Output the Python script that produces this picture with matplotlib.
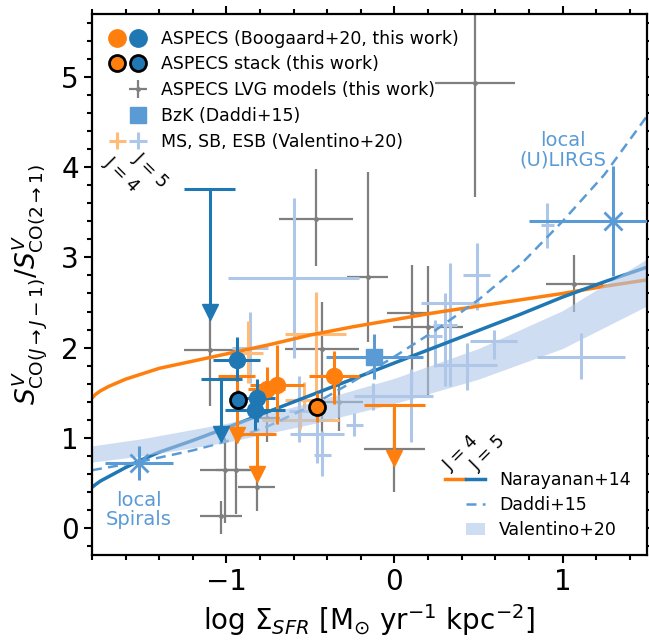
import numpy as np
import matplotlib
matplotlib.use('Agg')
import matplotlib.pyplot as plt
from matplotlib.legend_handler import HandlerTuple
from matplotlib.lines import Line2D
from matplotlib.patches import Patch
from matplotlib.ticker import MultipleLocator

# model curves
nar_x = [-1.8, -1.78, -1.75, -1.7, -1.6, -1.5, -1.4, -1.2, -1.0, -0.75, -0.5, -0.25, 0.0, 0.25, 0.5, 0.75, 1.0, 1.25, 1.5]
nar4_y = [1.44, 1.48, 1.52, 1.57, 1.65, 1.71, 1.77, 1.85, 1.93, 2.03, 2.14, 2.23, 2.31, 2.39, 2.46, 2.53, 2.60, 2.68, 2.75]
nar5_y = [0.45, 0.48, 0.52, 0.57, 0.67, 0.76, 0.84, 0.97, 1.11, 1.29, 1.47, 1.65, 1.83, 2.01, 2.19, 2.37, 2.56, 2.73, 2.89]

dad_x = [-1.8, -1.5, -1.2, -1.0, -0.75, -0.5, -0.25, 0.0, 0.25, 0.5, 0.75, 1.0, 1.25, 1.5]
dad_y = [0.64, 0.74, 0.86, 0.96, 1.13, 1.35, 1.62, 1.90, 2.20, 2.53, 2.92, 3.40, 3.92, 4.56]

val_x = [-1.8, -1.5, -1.0, -0.5, 0.0, 0.5, 1.0, 1.5]
val_lo = [0.73, 0.80, 0.95, 1.15, 1.38, 1.65, 1.99, 2.46]
val_hi = [0.91, 0.99, 1.16, 1.39, 1.66, 1.99, 2.41, 2.98]

# ASPECS detections, CO(4-3) orange / CO(5-4) blue
asp4_x = [-0.70, -0.76, -0.36]
asp4_y = [1.59, 1.54, 1.68]
asp4_xerr = [0.16, 0.11, 0.15]
asp4_ylo = [0.44, 0.23, 0.31]
asp4_yhi = [0.44, 0.24, 0.28]

asp5_x = [-0.94, -0.82, -0.83]
asp5_y = [1.86, 1.44, 1.31]
asp5_xerr = [0.14, 0.11, 0.18]
asp5_ylo = [0.23, 0.27, 0.22]
asp5_yhi = [0.26, 0.21, 0.19]

# upper limits: value at the top, arrow at the bottom
ul4_x = [-0.94, -0.82, 0.0]
ul4_top = [1.69, 1.04, 1.36]
ul4_bot = [1.03, 0.60, 0.78]
ul4_xerr = [0.11, 0.115, 0.18]

ul5_x = [-1.10, -1.03]
ul5_top = [3.76, 1.65]
ul5_bot = [2.40, 1.04]
ul5_xerr = [0.15, 0.12]

# stacks (orange, blue)
stk_x = [-0.46, -0.93]
stk_y = [1.34, 1.42]
stk_yerr = [0.16, 0.11]

# ASPECS LVG models
lvg_x = [-0.465, -0.16, -1.10, -0.43, -0.76, 0.106, 0.20, 1.07, 0.48, -1.01, -0.944, -1.03, -0.82, 0.0, -0.33]
lvg_y = [3.43, 2.78, 1.97, 1.98, 1.22, 2.38, 2.23, 2.71, 4.94, 0.64, 0.64, 0.13, 0.45, 0.88, 1.40]
lvg_xerr = [0.22, 0.12, 0.15, 0.22, 0.08, 0.15, 0.21, 0.17, 0.24, 0.15, 0.12, 0.125, 0.11, 0.18, 0.14]
lvg_ylo = [0.53, 0.72, 0.62, 0.94, 0.27, 0.81, 0.77, 0.32, 1.27, 0.58, 0.49, 0.20, 0.26, 0.48, 0.33]
lvg_yhi = [0.55, 1.17, 0.43, 0.53, 0.15, 0.54, 0.67, 0.32, 0.80, 0.36, 0.42, 0.17, 0.15, 0.45, 0.20]

# Valentino+20 MS/SB/ESB, J=5 (light blue) and J=4 (light orange)
v5_x = [-0.60, -0.86, -0.46, -0.57, -0.43, -0.24, -0.13, 0.10, 0.49, 0.91, 0.33, 0.30, 0.24, 0.59, 0.43, 1.11]
v5_y = [2.77, 2.00, 1.04, 1.30, 0.81, 1.14, 1.46, 1.46, 2.81, 3.36, 2.50, 2.25, 2.13, 2.07, 1.81, 1.90]
v5_xerr = [0.39, 0.105, 0.16, 0.06, 0.05, 0.05, 0.11, 0.13, 0.08, 0.04, 0.17, 0.07, 0.04, 0.14, 0.18, 0.26]
v5_ylo = [0.89, 0.39, 0.32, 0.35, 0.23, 0.12, 0.15, 0.51, 0.39, 0.25, 0.93, 0.68, 0.34, 0.20, 0.28, 0.25]
v5_yhi = [0.89, 0.40, 0.31, 0.38, 0.26, 0.14, 0.15, 0.30, 0.35, 0.24, 0.44, 0.36, 0.18, 0.13, 0.24, 0.26]

v4_x = [-0.47, -0.87, -0.54, -0.56]
v4_y = [2.15, 1.94, 1.42, 1.20]
v4_xerr = [0.18, 0.09, 0.11, 0.23]
v4_ylo = [0.67, 0.33, 0.10, 0.10]
v4_yhi = [0.47, 0.35, 0.20, 0.10]

# local spirals and (U)LIRGs
loc_x = [-1.52, 1.30]
loc_y = [0.72, 3.40]
loc_xerr = [0.20, 0.50]
loc_yerr = [0.19, 0.61]

# BzK (Daddi+15)
bzk_x = [-0.12]
bzk_y = [1.90]
bzk_xerr = [0.29]
bzk_yerr = [0.25]

orange = '#ff7f0e'
blue = '#1f77b4'
mblue = '#5b9bd5'
lblue = '#aec7e8'
lorange = '#ffbb78'
grey = '#7f7f7f'

fig = plt.figure(figsize=(6.49, 6.41), dpi=100)
ax = fig.add_axes([0.1418, 0.1342, 0.8544, 0.844])

# lvg models + valentino points (below the curves)
lvg_c = ax.errorbar(lvg_x, lvg_y, xerr=lvg_xerr, yerr=[lvg_ylo, lvg_yhi], fmt='.', ms=5,
                    color=grey, elinewidth=1.6, capsize=0, zorder=1)
v5_c = ax.errorbar(v5_x, v5_y, xerr=v5_xerr, yerr=[v5_ylo, v5_yhi], fmt='none',
                   ecolor=lblue, elinewidth=2.2, capsize=0, zorder=1.1)
v4_c = ax.errorbar(v4_x, v4_y, xerr=v4_xerr, yerr=[v4_ylo, v4_yhi], fmt='.', ms=5,
                   color=lorange, elinewidth=2.2, capsize=0, zorder=1.2)

# model curves
l4, = ax.plot(nar_x, nar4_y, color=orange, lw=2.5, zorder=1.5)
l5, = ax.plot(nar_x, nar5_y, color=blue, lw=2.5, zorder=1.5)
ld, = ax.plot(dad_x, dad_y, color=mblue, lw=1.8, ls=(0, (4, 2.5)), zorder=1.5)
ax.fill_between(val_x, val_lo, val_hi, color=lblue, alpha=0.6, lw=0, zorder=1.8)

# local galaxies and BzK
ax.errorbar(loc_x, loc_y, xerr=loc_xerr, yerr=loc_yerr, fmt='x', ms=13, mew=2,
            color=mblue, elinewidth=2.2, capsize=0, zorder=3)
ax.errorbar(bzk_x, bzk_y, xerr=bzk_xerr, yerr=bzk_yerr, fmt='s', ms=12,
            color=mblue, elinewidth=2.2, capsize=0, zorder=3)

# upper limits
for xs, top, bot, xe, c in [(ul4_x, ul4_top, ul4_bot, ul4_xerr, orange),
                            (ul5_x, ul5_top, ul5_bot, ul5_xerr, blue)]:
    dy = np.array(top) - np.array(bot)
    ax.errorbar(xs, top, xerr=xe, yerr=[dy, np.zeros_like(dy)], fmt='none',
                ecolor=c, elinewidth=2.2, capsize=0, zorder=4)
    ax.plot(xs, bot, 'v', color=c, ms=12, zorder=4)

# ASPECS detections
ax.errorbar(asp4_x, asp4_y, xerr=asp4_xerr, yerr=[asp4_ylo, asp4_yhi], fmt='o', ms=11.5,
            color=orange, elinewidth=2.2, capsize=0, zorder=5)
ax.errorbar(asp5_x, asp5_y, xerr=asp5_xerr, yerr=[asp5_ylo, asp5_yhi], fmt='o', ms=11.5,
            color=blue, elinewidth=2.2, capsize=0, zorder=5)

# stacks
ax.errorbar(stk_x[0], stk_y[0], yerr=stk_yerr[0], fmt='o', ms=11.5, mfc=orange, mec='k', mew=2,
            ecolor=orange, elinewidth=2.2, capsize=0, zorder=6)
ax.errorbar(stk_x[1], stk_y[1], yerr=stk_yerr[1], fmt='o', ms=11.5, mfc=blue, mec='k', mew=2,
            ecolor=blue, elinewidth=2.2, capsize=0, zorder=6)

# labels for local samples
ax.text(-1.52, 0.20, 'local\nSpirals', color=mblue, fontsize=14, ha='center', va='center',
        linespacing=1.0)
ax.text(1.0, 4.19, 'local\n(U)LIRGS', color=mblue, fontsize=14, ha='center', va='center',
        linespacing=1.0)

ax.set_xlim(-1.8, 1.5)
ax.set_ylim(-0.3, 5.7)
ax.xaxis.set_major_locator(MultipleLocator(1))
ax.xaxis.set_minor_locator(MultipleLocator(0.2))
ax.yaxis.set_major_locator(MultipleLocator(1))
ax.yaxis.set_minor_locator(MultipleLocator(0.2))
ax.tick_params(which='both', direction='out', top=True, right=True, width=1.5, labelsize=20)
ax.tick_params(which='major', length=6)
ax.tick_params(which='minor', length=3.5)
for s in ax.spines.values():
    s.set_linewidth(1.6)

ax.set_xlabel(r'log $\Sigma_{SFR}$ [M$_{\odot}$ yr$^{-1}$ kpc$^{-2}$]', fontsize=20)
ax.set_ylabel(r'$S^{V}_{\mathrm{CO}(J\rightarrow J-1)}/S^{V}_{\mathrm{CO}(2\rightarrow 1)}$', fontsize=19,
              labelpad=9)

# legends
blank = Line2D([], [], ls='none')
o4 = Line2D([], [], ls='none', marker='o', ms=12.5, color=orange)
o5 = Line2D([], [], ls='none', marker='o', ms=12.5, color=blue)
s4 = Line2D([], [], ls='none', marker='o', ms=11.5, mfc=orange, mec='k', mew=2)
s5 = Line2D([], [], ls='none', marker='o', ms=11.5, mfc=blue, mec='k', mew=2)
sq = Line2D([], [], ls='none', marker='s', ms=12, color=mblue)

leg1 = ax.legend([(o4, o5), (s4, s5), (blank, lvg_c), (blank, sq), (v4_c, v5_c)],
                 ['ASPECS (Boogaard+20, this work)', 'ASPECS stack (this work)',
                  'ASPECS LVG models (this work)', 'BzK (Daddi+15)', 'MS, SB, ESB (Valentino+20)'],
                 handler_map={tuple: HandlerTuple(ndivide=None, pad=0.1)},
                 loc='upper left', frameon=False, fontsize=12.5, handlelength=2.3,
                 labelspacing=0.45)
ax.add_artist(leg1)

band_patch = Patch(facecolor=lblue, alpha=0.6, lw=0)
ax.legend([(l4, l5), (blank, ld), (blank, band_patch)],
          ['Narayanan+14', 'Daddi+15', 'Valentino+20'],
          handler_map={tuple: HandlerTuple(ndivide=None, pad=0.1)},
          loc='lower right', frameon=False, fontsize=12.5, handlelength=2.3,
          labelspacing=0.4)

ax.text(-1.62, 3.92, 'J = 4', rotation=-45, fontsize=12.5, ha='center', va='center')
ax.text(-1.45, 3.96, 'J = 5', rotation=-45, fontsize=12.5, ha='center', va='center')
ax.text(0.40, 0.83, 'J = 4', rotation=45, fontsize=12.5, ha='center', va='center')
ax.text(0.56, 0.83, 'J = 5', rotation=45, fontsize=12.5, ha='center', va='center')

fig.savefig('out.png', dpi=100)
